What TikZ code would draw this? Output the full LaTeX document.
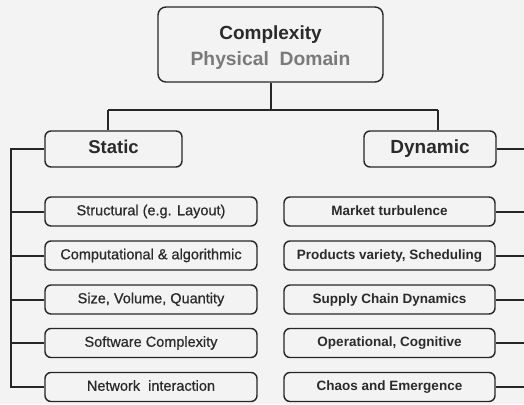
\documentclass[tikz,border=0pt]{standalone}
\usepackage{fontspec}
\setmainfont{Liberation Sans}
\newfontfamily\medfont[FakeBold=0.6]{Liberation Sans}
\definecolor{bg}{HTML}{F3F3F3}
\definecolor{ln}{HTML}{262626}
\definecolor{tx}{HTML}{2A2A2A}
\definecolor{gtx}{HTML}{7A7A7A}
\begin{document}
\begin{tikzpicture}[x=1pt,y=-1pt,
  box/.style={draw=ln,line width=1.4pt,rounded corners=6pt,fill=bg,inner sep=0pt,align=center,text=tx},
  lbox/.style={box,minimum width=212pt,minimum height=29pt,text height=10.5pt,text depth=3pt,font=\medfont\fontsize{14.5}{16}\selectfont},
  rbox/.style={box,minimum width=211pt,minimum height=29pt,text height=10pt,text depth=3pt,font=\bfseries\fontsize{13.5}{15}\selectfont},
  hbox/.style={box,minimum height=36pt,text height=13.5pt,text depth=4pt,font=\bfseries\fontsize{18.5}{20}\selectfont},
  conn/.style={draw=ln,line width=2pt}]
\fill[bg] (0,0) rectangle (524,404);
\useasboundingbox (0,0) rectangle (524,404);
\node[box,minimum width=225pt,minimum height=75pt,rounded corners=8pt] (top) at (270.5,44.5)
  {{\bfseries\fontsize{19}{22}\selectfont\rule{0pt}{20pt}Complexity}\\[7pt]{\bfseries\fontsize{19.3}{21}\selectfont\color{gtx}Physical\ \ Domain}};
\node[hbox,minimum width=137pt] (static) at (113.5,149) {Static};
\node[hbox,minimum width=132pt,font=\bfseries\fontsize{19}{21}\selectfont] (dynamic) at (430,149) {Dynamic};
\node[lbox] (l1) at (151,211.5) {Structural (e.g. Layout)};
\node[lbox] (l2) at (151,255.5) {Computational \& algorithmic};
\node[lbox] (l3) at (151,299.5) {Size, Volume, Quantity};
\node[lbox] (l4) at (151,343) {Software Complexity};
\node[lbox] (l5) at (151,387) {Network\ \ interaction};
\node[rbox] (r1) at (389.5,211.5) {Market turbulence};
\node[rbox] (r2) at (389.5,255.5) {Products variety, Scheduling};
\node[rbox] (r3) at (389.5,299.5) {Supply Chain Dynamics};
\node[rbox] (r4) at (389.5,343) {Operational, Cognitive};
\node[rbox] (r5) at (389.5,387) {Chaos and Emergence};
\coordinate (hl) at (108,110);
\coordinate (hr) at (438,110);
\coordinate (lb) at (11,0);
\coordinate (rb) at (524,0);
\draw[conn] (top.south) -- (top.south |- hl);
\draw[conn] (hl) -- (hr);
\draw[conn] (hl) -- (hl |- static.north);
\draw[conn] (hr) -- (hr |- dynamic.north);
\draw[conn] (static.west) -- (static.west -| lb) -- (l5.west -| lb) -- (l5.west);
\foreach \n in {l1,l2,l3,l4} \draw[conn] (\n.west) -- (\n.west -| lb);
\foreach \n in {dynamic,r1,r2,r3,r4,r5} \draw[conn] (\n.east) -- (\n.east -| rb);
\end{tikzpicture}
\end{document}
